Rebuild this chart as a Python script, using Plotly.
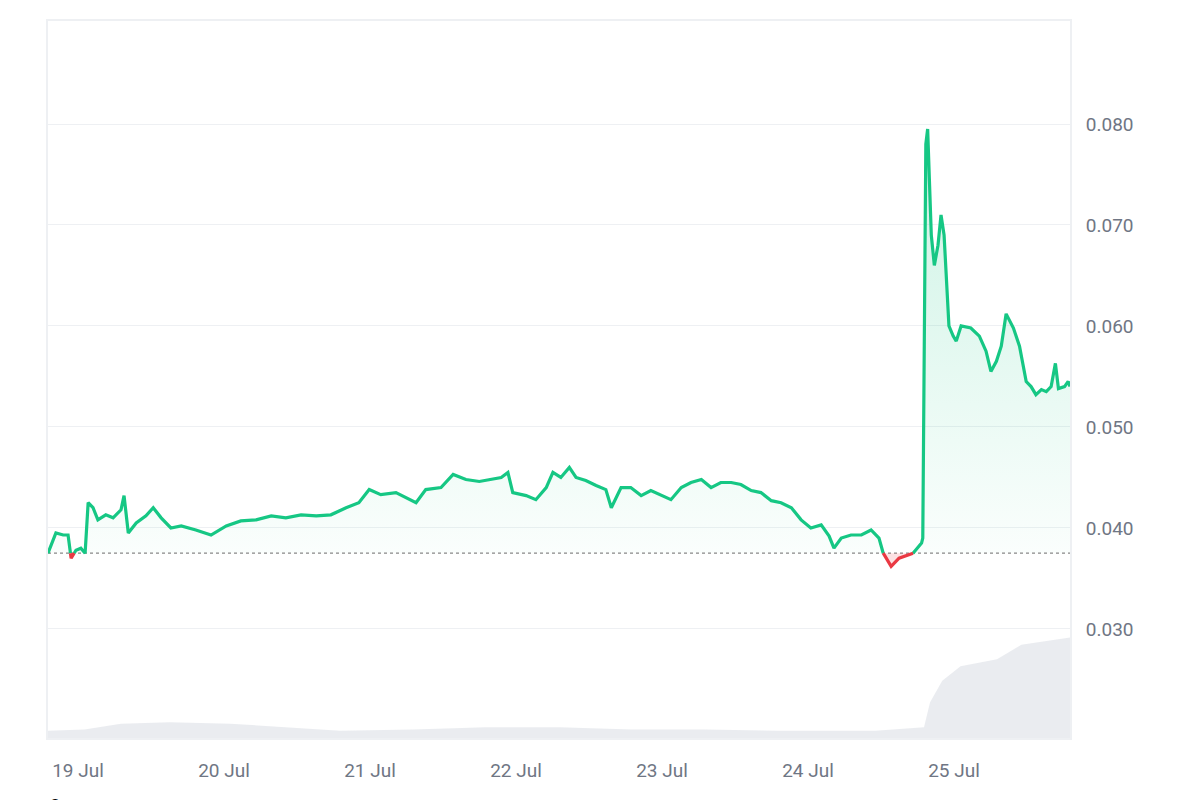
import numpy as np
import pandas as pd
import plotly.graph_objects as go

start = pd.Timestamp("2024-07-19 00:00")
base_price = 0.0375

# hours since 19 Jul 00:00 and price
hours = [0, 1.3, 2.5, 3.3, 3.8, 4.6, 5.4, 6.1, 6.6, 7.4, 8.2, 9.5, 10.7, 12, 12.5, 13.2, 14.5, 16.1,
         17.3, 18.6, 20.2, 21.9, 24.3, 26.8, 29.3, 31.7, 34.2, 36.7, 39.1, 41.6, 44.1, 46.5, 49, 51.1,
         52.8, 54.7, 57.2, 58.9, 60.5, 62.1, 64.6, 66.6, 68.7, 70.9, 72.8, 74.5, 75.6, 76.4, 78.6, 80.2,
         81.9, 83, 84.3, 85.7, 86.8, 88.4, 90.1, 91.7, 92.6, 94.2, 95.8, 97.5, 99.1, 100.8, 102.4, 104.1,
         105.7, 107.4, 109, 110.6, 112.3, 113.9, 115.6, 117.2, 118.9, 120.5, 122.2, 123.8, 125.4, 127.1,
         128.4, 129.2, 130.4, 132, 133.7, 135.3, 136.6, 137.3, 138.6, 139.9, 141.1, 142.2, 143.2, 143.6,
         143.8, 144.0, 144.3, 144.6, 145.2, 145.7, 146.3, 146.8, 147.3, 148.1, 148.8, 149.3, 150.1, 151.7,
         153.1, 154.2, 155, 155.9, 156.7, 157.5, 158.7, 159.7, 160.8, 161.6, 162.4, 163.3, 164.1, 164.9,
         165.6, 166.1, 167.1, 167.7, 168]
price = [0.0375, 0.0395, 0.0393, 0.0393, 0.0370, 0.0378, 0.0380, 0.0375, 0.0425, 0.0420, 0.0408, 0.0413,
         0.0410, 0.0418, 0.0432, 0.0395, 0.0405, 0.0412, 0.0420, 0.0410, 0.0400, 0.0402, 0.0398, 0.0393,
         0.0402, 0.0407, 0.0408, 0.0412, 0.0410, 0.0413, 0.0412, 0.0413, 0.0420, 0.0425, 0.0438, 0.0433,
         0.0435, 0.0430, 0.0425, 0.0438, 0.0440, 0.0453, 0.0448, 0.0446, 0.0448, 0.0450, 0.0455, 0.0435,
         0.0432, 0.0428, 0.0440, 0.0455, 0.0450, 0.0460, 0.0450, 0.0447, 0.0442, 0.0438, 0.0420, 0.0440,
         0.0440, 0.0432, 0.0437, 0.0432, 0.0428, 0.0440, 0.0445, 0.0448, 0.0440, 0.0445, 0.0445, 0.0443,
         0.0437, 0.0435, 0.0427, 0.0425, 0.0420, 0.0408, 0.0400, 0.0403, 0.0392, 0.0380, 0.0390, 0.0393,
         0.0393, 0.0398, 0.0390, 0.0375, 0.0362, 0.0370, 0.0373, 0.0375, 0.0382, 0.0385, 0.0390, 0.0600,
         0.0780, 0.0795, 0.0690, 0.0660, 0.0680, 0.0710, 0.0690, 0.0600, 0.0590, 0.0585, 0.0600, 0.0598,
         0.0590, 0.0575, 0.0555, 0.0565, 0.0580, 0.0612, 0.0598, 0.0580, 0.0545, 0.0540, 0.0532, 0.0537,
         0.0535, 0.0540, 0.0563, 0.0538, 0.0540, 0.0545, 0.0540]

vol_hours = [0, 6, 12, 20, 30, 40, 48, 60, 72, 84, 96, 108, 120, 136, 144, 145, 147, 150, 156, 160, 168]
volume = [0.1, 0.12, 0.2, 0.22, 0.2, 0.15, 0.1, 0.12, 0.15, 0.15, 0.12, 0.12, 0.1, 0.1, 0.15, 0.5, 0.8,
          1.0, 1.1, 1.3, 1.4]

tick_days = ["2024-07-19", "2024-07-20", "2024-07-21", "2024-07-22", "2024-07-23", "2024-07-24", "2024-07-25"]
tick_labels = ["19 Jul", "20 Jul", "21 Jul", "22 Jul", "23 Jul", "24 Jul", "25 Jul"]

# split the line at baseline crossings
hs, ps = [], []
for i in range(len(hours)):
    if i > 0 and (price[i - 1] - base_price) * (price[i] - base_price) < 0:
        t = (base_price - price[i - 1]) / (price[i] - price[i - 1])
        hs.append(hours[i - 1] + t * (hours[i] - hours[i - 1]))
        ps.append(base_price)
    hs.append(hours[i])
    ps.append(price[i])
hs = np.array(hs)
ps = np.array(ps)
x = start + pd.to_timedelta(hs, unit="h")
up = np.where(ps >= base_price, ps, np.nan)
down = np.where(ps <= base_price, ps, np.nan)
xv = start + pd.to_timedelta(vol_hours, unit="h")

green = "#16c784"
red = "#ea3943"

fig = go.Figure()
fig.add_trace(go.Scatter(x=xv, y=volume, yaxis="y2", mode="lines", line=dict(width=0),
                         fill="tozeroy", fillcolor="rgba(225,228,234,0.7)", hoverinfo="skip"))
fig.add_trace(go.Scatter(x=x, y=[base_price] * len(x), mode="lines",
                         line=dict(color="#888", width=1.2, dash="dot")))
fig.add_trace(go.Scatter(x=x, y=np.maximum(ps, base_price), mode="lines", line=dict(width=0),
                         fill="tonexty",
                         fillgradient=dict(type="vertical",
                                           colorscale=[[0, "rgba(22,199,132,0.02)"], [1, "rgba(22,199,132,0.22)"]])))
fig.add_trace(go.Scatter(x=x, y=[base_price] * len(x), mode="lines", line=dict(width=0)))
fig.add_trace(go.Scatter(x=x, y=np.minimum(ps, base_price), mode="lines", line=dict(width=0),
                         fill="tonexty", fillcolor="rgba(234,57,67,0.15)"))
fig.add_trace(go.Scatter(x=x, y=up, mode="lines", line=dict(color=green, width=3.2), connectgaps=False))
fig.add_trace(go.Scatter(x=x, y=down, mode="lines", line=dict(color=red, width=3.2), connectgaps=False))

fig.update_layout(
    width=1200, height=800, showlegend=False,
    paper_bgcolor="white", plot_bgcolor="white",
    margin=dict(l=40, r=138, t=11, b=70),
    font=dict(family="Roboto, Arial, sans-serif", color="#6f7684"),
    xaxis=dict(range=[start, start + pd.Timedelta(hours=168)], tickvals=pd.to_datetime(tick_days),
               ticktext=tick_labels, showgrid=False, ticks="", ticklabelshift=30,
               tickfont=dict(size=19, color="#6f7684"), showline=True, linecolor="#eef0f3", linewidth=2,
               mirror=True, zeroline=False, ticklabelstandoff=14),
    yaxis=dict(side="right", range=[0.0192, 0.0902], tickvals=[0.03, 0.04, 0.05, 0.06, 0.07, 0.08],
               tickformat=".3f", gridcolor="#eef0f3", tickfont=dict(size=19, color="#6f7684"),
               showline=True, linecolor="#eef0f3", linewidth=2, mirror=True, zeroline=False,
               ticklabelstandoff=10),
    yaxis2=dict(overlaying="y", range=[0, 10], visible=False),
)
fig.add_annotation(text="3", xref="paper", yref="paper", x=0, y=-0.075, xanchor="left", yanchor="top",
                   showarrow=False, font=dict(size=19, color="black"))

fig.write_html("out.html")
